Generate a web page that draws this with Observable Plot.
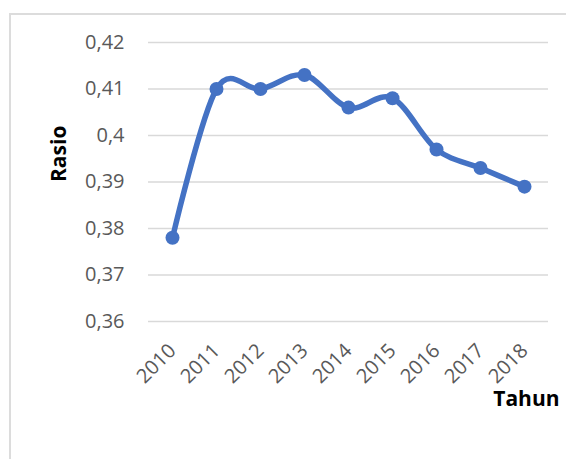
<!DOCTYPE html>
<html>
<head>
<meta charset="utf-8">
<script src="https://cdn.jsdelivr.net/npm/d3@7"></script>
<script src="https://cdn.jsdelivr.net/npm/@observablehq/plot@0.6"></script>
<style>
  html, body { margin: 0; padding: 0; background: #fff; }
  body { width: 566px; height: 459px; overflow: hidden; position: relative; font-family: "Open Sans", sans-serif; }
  #chart { position: absolute; left: 0; top: 0; }
  #frame { position: absolute; left: 9px; top: 13px; width: 640px; height: 520px; border: 2px solid #dcdcdc; pointer-events: none; }
</style>
</head>
<body>
<div id="chart"></div>
<div id="frame"></div>
<script>
const years = ["2010", "2011", "2012", "2013", "2014", "2015", "2016", "2017", "2018"];
const rasio = [0.378, 0.410, 0.410, 0.413, 0.406, 0.408, 0.397, 0.393, 0.389];
const yTicks = [0.36, 0.37, 0.38, 0.39, 0.40, 0.41, 0.42];
const yTitle = "Rasio";
const xTitle = "Tahun";

const data = years.map((year, i) => ({ year, value: rasio[i] }));
const fmt = d => String(+d.toFixed(2)).replace(".", ",");
const blue = "#4472C4";

const chart = Plot.plot({
  width: 566,
  height: 459,
  marginLeft: 148,
  marginRight: 18,
  marginTop: 42,
  marginBottom: 138,
  style: { fontFamily: "'Open Sans', sans-serif", background: "transparent", overflow: "visible" },
  x: { type: "point", domain: years, padding: 0.5 },
  y: { domain: [0.36, 0.42] },
  marks: [
    Plot.ruleY(yTicks, { stroke: "#d9d9d9", strokeWidth: 1.5 }),
    Plot.axisY({ ticks: yTicks, tickSize: 0, tickPadding: 24, tickFormat: fmt, fontSize: 20, fill: "#595959", label: null }),
    Plot.axisX({ tickRotate: -45, tickSize: 0, tickPadding: 26, fontSize: 20, fill: "#595959", label: null }),
    Plot.line(data, { x: "year", y: "value", curve: "cardinal", stroke: blue, strokeWidth: 5.5, strokeLinejoin: "round", strokeLinecap: "round" }),
    Plot.dot(data, { x: "year", y: "value", r: 7, fill: blue, stroke: blue, strokeWidth: 0 }),
    Plot.text([yTitle], { text: d => d, frameAnchor: "left", rotate: -90, dx: -89, fontSize: 21, fontWeight: "bold", fill: "#000" }),
    Plot.text([xTitle], { text: d => d, frameAnchor: "bottom-right", textAnchor: "end", dx: 11, dy: 84, fontSize: 21, fontWeight: "bold", fill: "#000" })
  ]
});
document.getElementById("chart").appendChild(chart);
</script>
</body>
</html>
